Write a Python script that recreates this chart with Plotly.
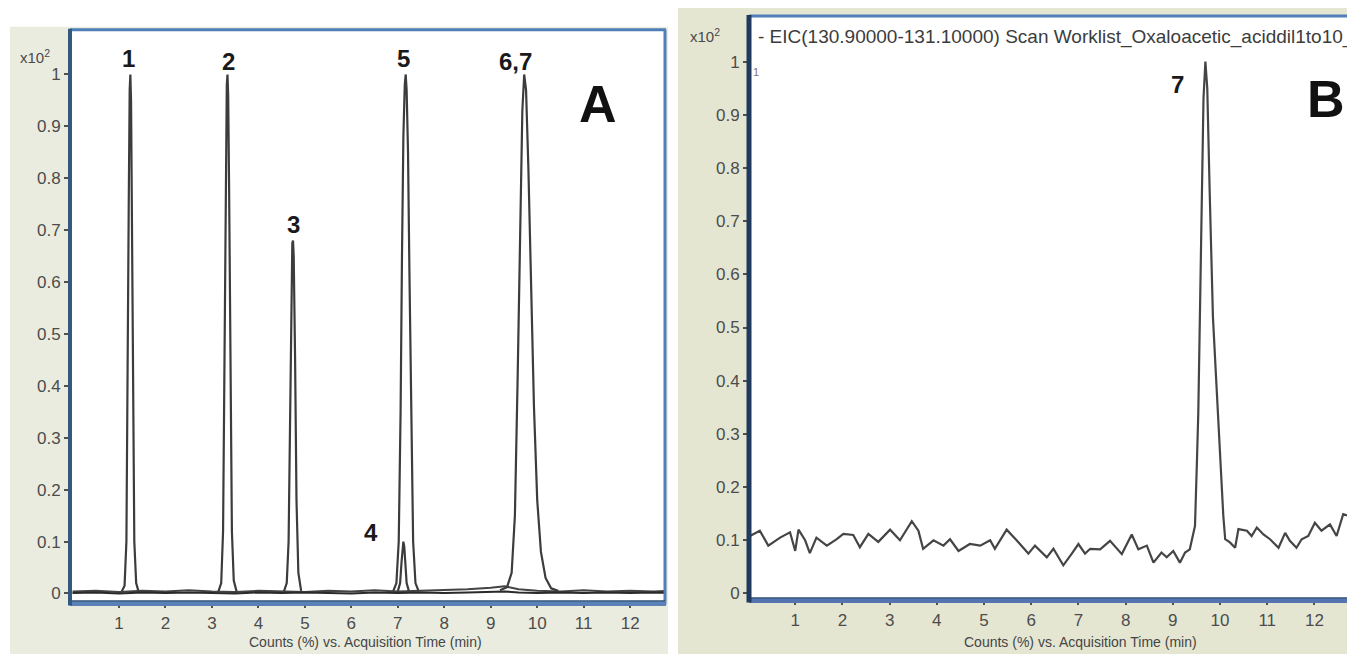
import plotly.graph_objects as go

# The page adds an 8px body margin, so the figure is sized to the visible area
OFF = 8
W, H = 1355 - OFF, 659 - OFF

# ---------------- DATA ----------------
# Panel A: overlaid extracted-ion chromatograms (time in min, counts x10^2)
base_t = [0.0, 0.5, 1.0, 1.5, 2.0, 2.5, 3.0, 3.5, 4.0, 4.5, 5.0, 5.5, 6.0, 6.5,
          7.0, 7.5, 8.0, 8.5, 9.0, 9.3, 9.6, 10.0, 10.5, 11.0, 11.5, 12.0, 12.5, 12.8]
base1_y = [0.004, 0.005, 0.003, 0.005, 0.004, 0.006, 0.004, 0.003, 0.005, 0.004, 0.003, 0.005, 0.004, 0.006,
           0.004, 0.005, 0.006, 0.008, 0.011, 0.014, 0.008, 0.005, 0.004, 0.006, 0.004, 0.005, 0.004, 0.005]
base2_y = [0.001, 0.002, 0.000, 0.002, 0.001, 0.002, 0.001, 0.000, 0.002, 0.001, 0.002, 0.001, 0.000, 0.002,
           0.001, 0.002, 0.001, 0.002, 0.003, 0.004, 0.002, 0.001, 0.002, 0.001, 0.002, 0.001, 0.002, 0.001]

p1_t = [1.06, 1.12, 1.16, 1.19, 1.21, 1.23, 1.245, 1.26, 1.28, 1.30, 1.33, 1.37, 1.42]
p1_y = [0.004, 0.015, 0.10, 0.40, 0.75, 0.97, 1.00, 0.95, 0.70, 0.38, 0.10, 0.02, 0.004]

p2_t = [3.14, 3.20, 3.24, 3.27, 3.30, 3.32, 3.335, 3.35, 3.37, 3.40, 3.43, 3.47, 3.53]
p2_y = [0.004, 0.02, 0.12, 0.45, 0.82, 0.98, 1.00, 0.96, 0.78, 0.42, 0.12, 0.025, 0.004]

p3_t = [4.55, 4.61, 4.65, 4.68, 4.71, 4.73, 4.745, 4.76, 4.79, 4.82, 4.86, 4.92]
p3_y = [0.004, 0.02, 0.10, 0.36, 0.60, 0.675, 0.68, 0.65, 0.45, 0.18, 0.04, 0.005]

p4_t = [7.00, 7.05, 7.08, 7.10, 7.12, 7.14, 7.16, 7.19, 7.24]
p4_y = [0.004, 0.02, 0.06, 0.09, 0.10, 0.09, 0.06, 0.02, 0.004]

p5_t = [6.90, 6.97, 7.02, 7.06, 7.09, 7.12, 7.15, 7.17, 7.19, 7.22, 7.25, 7.29, 7.33, 7.38, 7.45]
p5_y = [0.004, 0.02, 0.10, 0.35, 0.65, 0.88, 0.98, 1.00, 0.97, 0.85, 0.62, 0.32, 0.10, 0.02, 0.004]

p67_t = [9.20, 9.35, 9.45, 9.52, 9.58, 9.63, 9.68, 9.72, 9.76, 9.81, 9.87, 9.93, 10.00, 10.08, 10.18, 10.30, 10.45]
p67_y = [0.006, 0.012, 0.04, 0.15, 0.42, 0.72, 0.93, 1.00, 0.97, 0.82, 0.58, 0.36, 0.18, 0.08, 0.03, 0.01, 0.005]

peaks_A = [(p1_t, p1_y), (p2_t, p2_y), (p3_t, p3_y), (p4_t, p4_y), (p5_t, p5_y), (p67_t, p67_y)]

labels_A = ["1", "2", "3", "4", "5", "6,7"]
labels_A_t = [1.20, 3.35, 4.75, 6.43, 7.12, 9.53]
labels_A_y = [1.03, 1.025, 0.711, 0.117, 1.03, 1.025]

# Panel B: EIC 130.9-131.1
eic_t = [0.02, 0.03, 0.04, 0.25, 0.43, 0.68, 0.89, 1.00, 1.07, 1.21, 1.31, 1.45, 1.67, 1.88, 2.02,
         2.23, 2.37, 2.55, 2.76, 3.01, 3.22, 3.47, 3.61, 3.71, 3.93, 4.14, 4.28, 4.46, 4.70, 4.92,
         5.13, 5.23, 5.48, 5.69, 5.94, 6.08, 6.33, 6.47, 6.68, 6.86, 7.00, 7.14, 7.25, 7.46, 7.67,
         7.92, 8.13, 8.27, 8.45, 8.59, 8.76, 8.87, 9.01, 9.15, 9.26, 9.36, 9.47, 9.51, 9.54, 9.57,
         9.61, 9.65, 9.69, 9.73, 9.78, 9.85, 9.92, 9.96, 10.00, 10.07, 10.11, 10.21, 10.32, 10.39,
         10.57, 10.67, 10.78, 10.92, 11.06, 11.24, 11.38, 11.48, 11.62, 11.73, 11.87, 12.01, 12.15,
         12.33, 12.47, 12.61, 12.72, 12.86]
eic_y = [0.19, 0.06, 0.108, 0.118, 0.09, 0.105, 0.115, 0.08, 0.12, 0.10, 0.076, 0.105, 0.09, 0.102, 0.112,
         0.11, 0.087, 0.112, 0.097, 0.12, 0.10, 0.136, 0.118, 0.084, 0.10, 0.09, 0.102, 0.08, 0.093, 0.09,
         0.10, 0.084, 0.12, 0.10, 0.075, 0.09, 0.068, 0.084, 0.053, 0.075, 0.093, 0.075, 0.084, 0.083, 0.099,
         0.074, 0.111, 0.083, 0.09, 0.058, 0.077, 0.068, 0.080, 0.058, 0.077, 0.083, 0.127, 0.245, 0.34, 0.50,
         0.74, 0.93, 1.00, 0.95, 0.76, 0.52, 0.40, 0.33, 0.257, 0.146, 0.102, 0.096, 0.086, 0.121,
         0.118, 0.108, 0.124, 0.111, 0.102, 0.086, 0.114, 0.099, 0.086, 0.102, 0.108, 0.133, 0.118,
         0.130, 0.108, 0.149, 0.146, 0.124]

labels_B = ["7"]
labels_B_t = [9.09]
labels_B_y = [0.957]

y_ticks = [0, 0.1, 0.2, 0.3, 0.4, 0.5, 0.6, 0.7, 0.8, 0.9, 1]
y_ticktext = ["0", "0.1", "0.2", "0.3", "0.4", "0.5", "0.6", "0.7", "0.8", "0.9", "1"]
x_ticks = [1, 2, 3, 4, 5, 6, 7, 8, 9, 10, 11, 12]

x_title = "Counts (%) vs. Acquisition Time (min)"
b_header = "- EIC(130.90000-131.10000) Scan Worklist_Oxaloacetic_aciddil1to10_"

# ---------------- FIGURE ----------------
def px(x):
    return (x - OFF) / W

def py(y):
    return 1 - (y - OFF) / H

FONT = "Liberation Sans, Arial, sans-serif"
fig = go.Figure()
line_col = "#3c3c3c"
fig.add_trace(go.Scatter(x=base_t, y=base1_y, mode="lines", line=dict(color="#444444", width=2),
                         xaxis="x", yaxis="y", showlegend=False, hoverinfo="skip"))
fig.add_trace(go.Scatter(x=base_t, y=base2_y, mode="lines", line=dict(color="#2a2a2a", width=2),
                         xaxis="x", yaxis="y", showlegend=False, hoverinfo="skip"))
for t, y in peaks_A:
    fig.add_trace(go.Scatter(x=t, y=y, mode="lines", line=dict(color=line_col, width=2.2),
                             xaxis="x", yaxis="y", showlegend=False, hoverinfo="skip"))
fig.add_trace(go.Scatter(x=eic_t, y=eic_y, mode="lines", line=dict(color="#454545", width=2.2),
                         xaxis="x2", yaxis="y2", showlegend=False, hoverinfo="skip"))

tickfont = dict(family=FONT, size=17, color="#4c4c4c")
common_y = dict(tickvals=y_ticks, ticktext=y_ticktext, ticks="outside", ticklen=5, tickwidth=1.5,
                tickcolor="#505050", tickfont=tickfont, showgrid=False, zeroline=False, showline=False,
                fixedrange=True)
common_x = dict(tickvals=x_ticks, ticks="outside", ticklen=6, tickwidth=1.5, tickcolor="#505050",
                tickfont=tickfont, showgrid=False, zeroline=False, showline=False, fixedrange=True)

# frame positions in page pixels
A_l, A_r, A_t, A_b = 70, 665, 30, 606
B_l, B_r, B_t, B_b = 749, 1355, 16, 603

fig.update_layout(
    width=W, height=H, autosize=False,
    margin=dict(l=0, r=0, t=0, b=0),
    paper_bgcolor="white", plot_bgcolor="white",
    xaxis=dict(domain=[px(A_l), px(A_r)], range=[-0.054, 12.75], anchor="y", **common_x),
    yaxis=dict(domain=[py(A_b), py(A_t)], range=[-0.0153, 1.086], anchor="x", **common_y),
    xaxis2=dict(domain=[px(B_l), 1], range=[0.021, 12.86], anchor="y2", **common_x),
    yaxis2=dict(domain=[py(B_b), py(B_t)], range=[-0.0093, 1.0858], anchor="x2", **common_y),
)

shapes = []
shapes.append(dict(type="rect", xref="paper", yref="paper", x0=px(10), x1=px(668), y0=0, y1=py(27),
                   fillcolor="#eaecdf", line=dict(width=0), layer="below"))
shapes.append(dict(type="rect", xref="paper", yref="paper", x0=px(A_l), x1=px(A_r), y0=py(A_b), y1=py(A_t),
                   fillcolor="white", line=dict(width=0), layer="below"))
shapes.append(dict(type="rect", xref="paper", yref="paper", x0=px(678), x1=1, y0=0, y1=1,
                   fillcolor="#e4e6d2", line=dict(width=0), layer="below"))
shapes.append(dict(type="rect", xref="paper", yref="paper", x0=px(B_l), x1=1, y0=py(B_b), y1=py(B_t),
                   fillcolor="white", line=dict(width=0), layer="below"))

def hline(x0, x1, y, col, w):
    return dict(type="line", xref="paper", yref="paper", x0=px(x0), x1=px(x1), y0=py(y), y1=py(y),
                line=dict(color=col, width=w), layer="above")

def vline(x, y0, y1, col, w):
    return dict(type="line", xref="paper", yref="paper", x0=px(x), x1=px(x), y0=py(y0), y1=py(y1),
                line=dict(color=col, width=w), layer="above")

shapes.append(hline(A_l, A_r + 1, A_t, "#4f7fb8", 3))
shapes.append(vline(A_r, A_t, A_b + 3, "#4f7fb8", 3))
shapes.append(hline(A_l, A_r + 1, A_b + 2, "#5b82b8", 5))
shapes.append(hline(A_l, A_r, A_b - 0.5, "#2f4f70", 1.2))
shapes.append(vline(A_l, A_t - 1, A_b + 4, "#34597f", 4))
shapes.append(hline(B_l, 1356, B_t, "#4f7fb8", 3))
shapes.append(hline(B_l, 1356, B_b + 2, "#5573b0", 5))
shapes.append(hline(B_l, 1356, B_b - 0.5, "#2f4f70", 1.2))
shapes.append(vline(B_l, B_t - 1, B_b + 4, "#1f3a5c", 5))
fig.update_layout(shapes=shapes)

ann = []
lab_font = dict(family=FONT, size=24, color="#1a1a1a")
for s, t, y in zip(labels_A, labels_A_t, labels_A_y):
    ann.append(dict(text="<b>%s</b>" % s, x=t, y=y, xref="x", yref="y", showarrow=False, font=lab_font,
                    yanchor="middle"))
for s, t, y in zip(labels_B, labels_B_t, labels_B_y):
    ann.append(dict(text="<b>%s</b>" % s, x=t, y=y, xref="x2", yref="y2", showarrow=False, font=lab_font,
                    yanchor="middle"))
big_font = dict(family=FONT, size=52, color="#111111")
ann.append(dict(text="<b>A</b>", x=11.31, y=0.943, xref="x", yref="y", showarrow=False, font=big_font,
                yanchor="middle"))
ann.append(dict(text="<b>B</b>", x=12.25, y=0.929, xref="x2", yref="y2", showarrow=False, font=big_font,
                yanchor="middle"))

small = dict(family=FONT, size=15, color="#4a4a4a")
ann.append(dict(text="x10<sup>2</sup>", x=px(35), y=py(57), xref="paper", yref="paper", showarrow=False,
                font=small, xanchor="center", yanchor="middle"))
ann.append(dict(text="x10<sup>2</sup>", x=px(705), y=py(36), xref="paper", yref="paper", showarrow=False,
                font=small, xanchor="center", yanchor="middle"))
ann.append(dict(text=b_header, x=px(756), y=py(37), xref="paper", yref="paper", xanchor="left",
                yanchor="middle", showarrow=False, font=dict(family=FONT, size=19, color="#3c3c3c")))
ann.append(dict(text="1", x=px(756), y=py(72), xref="paper", yref="paper", showarrow=False,
                xanchor="center", yanchor="middle", font=dict(family=FONT, size=11, color="#777777")))
axt = dict(family=FONT, size=14, color="#454545")
ann.append(dict(text=x_title, x=px(365), y=py(647), xref="paper", yref="paper", showarrow=False, font=axt,
                xanchor="center", yanchor="middle"))
ann.append(dict(text=x_title, x=px(1080), y=py(647), xref="paper", yref="paper", showarrow=False, font=axt,
                xanchor="center", yanchor="middle"))
fig.update_layout(annotations=ann)

fig.write_html("out.html")
